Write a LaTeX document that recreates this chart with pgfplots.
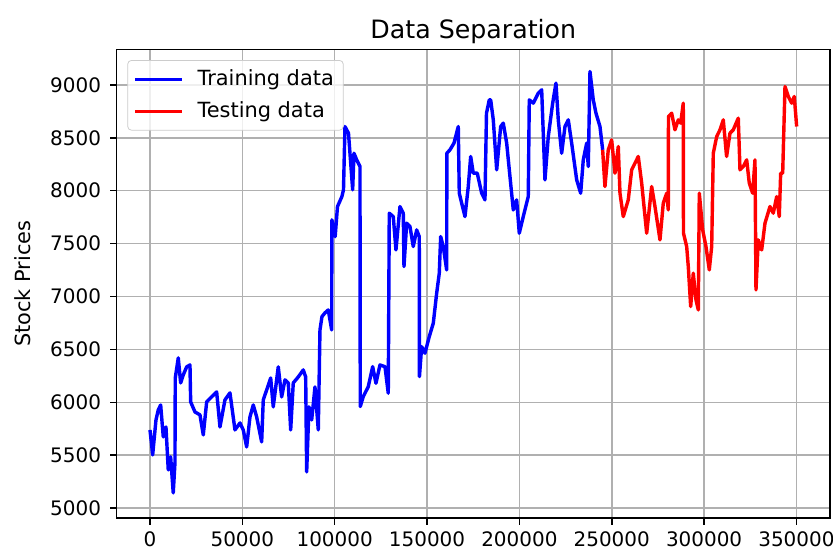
\documentclass[border=0pt]{standalone}
\usepackage{pgfplots}
\pgfplotsset{compat=1.18}
\usepackage{fontspec}
\setmainfont{DejaVu Sans}
\definecolor{gridgray}{RGB}{176,176,176}
\definecolor{legframe}{RGB}{204,204,204}
\begin{document}
\begin{tikzpicture}
\useasboundingbox (-61.4pt,-16.8pt) rectangle (377.0pt,272.6pt);
\begin{axis}[
  at={(0pt,0pt)}, anchor=south west,
  scale only axis, width=375.4pt, height=246.6pt,
  xmin=-18030, xmax=368150, ymin=4907, ymax=9335,
  xtick={0,50000,100000,150000,200000,250000,300000,350000},
  ytick={5000,5500,6000,6500,7000,7500,8000,8500,9000},
  scaled x ticks=false, scaled y ticks=false,
  /pgf/number format/fixed,
  /pgf/number format/1000 sep={},
  /pgf/number format/assume math mode=true,
  tick align=outside, tick pos=left, major tick length=3.5pt,
  tick style={black, line width=0.8pt},
  grid=major, major grid style={gridgray, line width=0.8pt},
  axis line style={black, line width=0.8pt},
  tick label style={font=\fontsize{10.5}{12}\selectfont},
  yticklabel style={xshift=-1.2pt},
  title={Data Separation},
  title style={font=\fontsize{13.3}{16}\selectfont, at={(axis description cs:0.5,1)}, anchor=center, yshift=3.2pt},
  ylabel={Stock Prices},
  ylabel style={font=\fontsize{11}{13}\selectfont, at={(axis description cs:-0.1313,0.5)}, anchor=center},
  legend style={at={(axis description cs:0,1)}, anchor=north west, xshift=5.6pt, yshift=-5.6pt,
    draw=legframe, rounded corners=2pt, fill=white, fill opacity=0.8, text opacity=1,
    font=\fontsize{11}{13}\selectfont, row sep=3pt, inner sep=3pt},
  legend cell align=left,
  legend image code/.code={\draw[#1] (0pt,0pt) -- (24.6pt,0pt); \path (30pt,0pt);},
]
\addplot[blue, line width=1.8pt, line join=round] coordinates {
(0,5739) (800,5616) (1460,5503) (3250,5833) (4490,5928) (5790,5975) (7200,5673) (8660,5767)
(9900,5361) (11200,5484) (12600,5144) (13530,5427) (13700,6230) (15320,6420) (16620,6183)
(18030,6259) (19870,6335) (21660,6353) (22030,6004) (24360,5909) (27070,5881) (28860,5692)
(30700,6004) (33400,6051) (36110,6098) (37900,5767) (40600,6023) (43310,6089) (46020,5739)
(48730,5805) (50510,5739) (52350,5578) (54140,5862) (55930,5975) (57770,5862) (60470,5626)
(61340,6023) (63180,6117) (65350,6230) (66750,5957) (69460,6335) (71300,6051) (73090,6212)
(74880,6183) (76180,5739) (77580,6183) (80290,6240) (83000,6306) (84300,6240) (84840,5342)
(86080,5957) (87550,5833) (89330,6145) (91120,5739) (92040,6684) (93120,6810) (94750,6845)
(96530,6873) (98370,6684) (98500,7724) (100270,7566) (101520,7850) (103900,7944) (104770,8008)
(105570,8606) (107480,8543) (108280,8354) (109740,8008) (110450,8354) (111910,8291) (113700,8228)
(113850,5960) (115480,6054) (118190,6148) (120570,6337) (122360,6180) (124520,6353) (127230,6337)
(129010,6086) (129560,7787) (131720,7755) (133180,7440) (135350,7850) (137140,7787) (137520,7283)
(138980,7693) (140760,7661) (142550,7472) (144390,7629) (145800,7566) (145900,6243) (147090,6526)
(148880,6464) (151210,6621) (153380,6747) (155220,7031) (156630,7220) (157390,7566) (158790,7472)
(160630,7251) (160740,8354) (162420,8386) (164590,8449) (166910,8606) (167460,7976) (168750,7882)
(170540,7755) (172330,8039) (173630,8323) (175040,8165) (177200,8165) (179580,7976) (181370,7913)
(182190,8732) (183700,8858) (184460,8858) (185870,8669) (187710,8197) (189870,8606) (191280,8638)
(193120,8449) (194900,8133) (196700,7818) (198530,7913) (199940,7598) (202100,7755) (204810,7944)
(205350,8858) (207520,8827) (210230,8921) (212070,8953) (213850,8102) (215640,8511) (218020,8827)
(219810,9016) (221050,8669) (222890,8354) (224680,8606) (226470,8669) (228310,8449) (231020,8102)
(233180,7976) (234590,8291) (236430,8449) (237300,8228) (238220,9126) (240000,8858) (241470,8732)
(243630,8606) (245090,8386)
};
\addlegendentry{Training data}
\addplot[red, line width=1.8pt, line join=round] coordinates {
(245090,8386) (245410,8291) (246330,8039) (248120,8386) (249960,8480) (251750,8165) (253540,8417)
(254460,7976) (256240,7755) (258950,7913) (260790,8197) (262580,8260) (264370,8323) (266210,8071)
(268920,7598) (271620,8039) (273410,7850) (276120,7535) (277900,7882) (279740,7976) (280610,7818)
(280720,8700) (282450,8732) (284240,8575) (286020,8669) (287320,8638) (288730,8827) (288840,7598)
(290570,7472) (291440,7283) (292740,6905) (294150,7220) (295610,6968) (296860,6873) (297400,7976)
(299240,7629) (301020,7472) (302810,7251) (304110,7472) (304980,8354) (306820,8511) (308600,8575)
(310390,8669) (312180,8323) (314010,8543) (315800,8575) (318510,8685) (319430,8197) (321220,8228)
(323060,8291) (324470,8071) (326300,7976) (327550,8291) (328090,7062) (329340,7535) (331180,7440)
(332970,7693) (335670,7850) (337460,7787) (339300,7944) (340700,7755) (341460,8165) (342550,8165)
(343800,8984) (345580,8890) (347420,8827) (348820,8890) (350120,8606)
};
\addlegendentry{Testing data}
\end{axis}
\end{tikzpicture}
\end{document}
